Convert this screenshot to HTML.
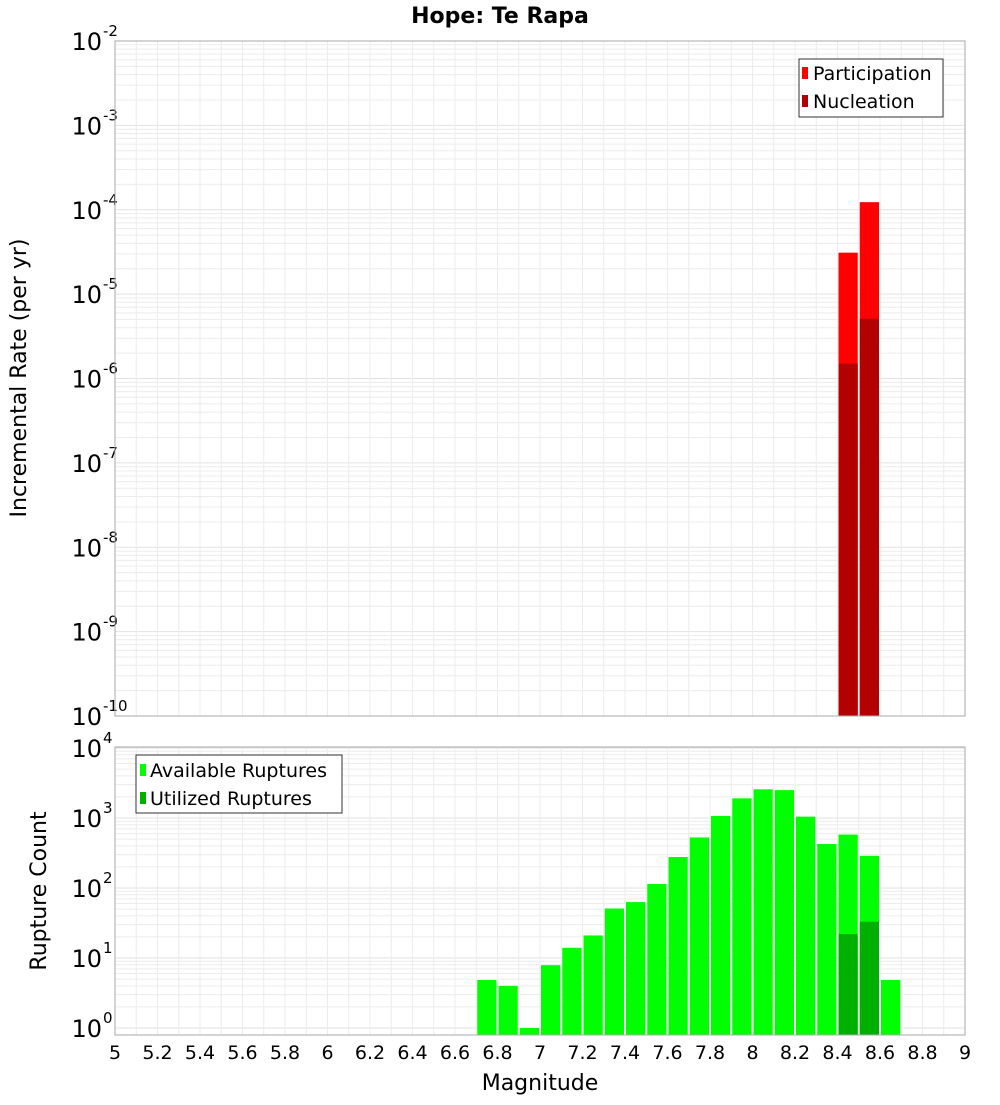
<!DOCTYPE html>
<html><head><meta charset="utf-8"><style>
body{margin:0;background:#fff;font-family:"Liberation Sans","DejaVu Sans",sans-serif}
svg text{font-family:"DejaVu Sans","Liberation Sans",sans-serif}
</style></head><body>
<svg id="c" width="1000" height="1100" xmlns="http://www.w3.org/2000/svg">
<text x="500" y="23" text-anchor="middle" font-size="22" font-weight="bold">Hope: Te Rapa</text>
<g id="top"></g><g id="bot"></g>
<text transform="translate(26,378) rotate(-90)" text-anchor="middle" font-size="22">Incremental Rate (per yr)</text>
<text transform="translate(46,891) rotate(-90)" text-anchor="middle" font-size="22">Rupture Count</text>
<text x="540" y="1090" text-anchor="middle" font-size="22">Magnitude</text>
</svg>
<script>
const rateMags=[8.45,8.55];
const participation=[3.1e-5,1.23e-4];
const nucleation=[1.5e-6,5.1e-6];
const countMags=[6.75,6.85,6.95,7.05,7.15,7.25,7.35,7.45,7.55,7.65,7.75,7.85,7.95,8.05,8.15,8.25,8.35,8.45,8.55,8.65];
const available=[4.85,4,1,7.9,14,21,51,63,114,277,527,1070,1910,2570,2500,1045,425,580,288,4.85];
const utilizedMags=[8.45,8.55];
const utilized=[22,33];
const xTicks=[5,5.2,5.4,5.6,5.8,6,6.2,6.4,6.6,6.8,7,7.2,7.4,7.6,7.8,8,8.2,8.4,8.6,8.8,9];
const xTickLabels=["5","5.2","5.4","5.6","5.8","6","6.2","6.4","6.6","6.8","7","7.2","7.4","7.6","7.8","8","8.2","8.4","8.6","8.8","9"];
const topExp=[-10,-9,-8,-7,-6,-5,-4,-3,-2];
const botExp=[0,1,2,3,4];
const NS="http://www.w3.org/2000/svg";
const L=115,R=965;
const X=m=>L+(m-5)*(R-L)/4;
function mk(p,t,a){const e=document.createElementNS(NS,t);for(const k in a)e.setAttribute(k,a[k]);p.appendChild(e);return e;}
function panel(g,top,bot,yOf,exps,name){
  const Yb=bot;
  mk(g,'rect',{x:L,y:top,width:R-L,height:bot-top,fill:'#fff'});
  for(let i=0;i<exps.length;i++){for(let k=1;k<10;k++){const y=yOf(k*Math.pow(10,exps[i]));if(y<top||y>bot)continue;
    const ln=mk(g,'line',{x1:L,x2:R,y1:y,y2:y,stroke:k==1?'#e2e2e2':'#ececec','stroke-width':1});
    }}
  for(let m=5.1;m<9;m+=0.1){const x=X(m);const ln=mk(g,'line',{x1:x,x2:x,y1:top,y2:bot,stroke:'#ececec','stroke-width':1});
    }
  for(let i=0;i<exps.length;i++){const y=yOf(Math.pow(10,exps[i]));
    const t=mk(g,'text',{x:102,y:y+9,'text-anchor':'end','font-size':24});t.textContent='10';
    
    const s=mk(g,'text',{x:103,y:y-5,'font-size':15});s.textContent=String(exps[i]);
    }
}
function border(g,top,bot){mk(g,'rect',{x:L,y:top,width:R-L,height:bot-top,fill:'none',stroke:'#aaa','stroke-width':1});}
function bar(g,m,v,yOf,base,col,nm){const x0=X(m-0.05)+1,x1=X(m+0.05)-1;const y=yOf(v);
  const r=mk(g,'rect',{x:x0,y:y,width:x1-x0,height:base-y,fill:col});
  }
// top panel
const gt=document.getElementById('top');
const tTop=41,tBot=716;
const Yt=v=>tBot-(Math.log10(v)+10)*(tBot-tTop)/8;
panel(gt,tTop,tBot,Yt,topExp,'top');
for(let i=0;i<rateMags.length;i++)bar(gt,rateMags[i],participation[i],Yt,tBot,'#ff0000','participation-bar');
for(let i=0;i<rateMags.length;i++)bar(gt,rateMags[i],nucleation[i],Yt,tBot,'#b30000','nucleation-bar');
border(gt,tTop,tBot);
// legend top
let lg=mk(gt,'g',{});
mk(lg,'rect',{x:799,y:59,width:144,height:58,fill:'#fff',stroke:'#333','stroke-width':1});
mk(lg,'rect',{x:802,y:67,width:6,height:12,fill:'#ff0000'});
mk(lg,'rect',{x:802,y:95,width:6,height:12,fill:'#b30000'});
let t=mk(lg,'text',{x:813,y:80,'font-size':19});t.textContent='Participation';
t=mk(lg,'text',{x:813,y:108,'font-size':19});t.textContent='Nucleation';
// bottom panel
const gb=document.getElementById('bot');
const bTop=747,bBot=1035;
const Yb=v=>1028-Math.log10(v)*70;
panel(gb,bTop,bBot,Yb,botExp,'bottom');
for(let i=0;i<countMags.length;i++)bar(gb,countMags[i],available[i],Yb,bBot,'#00ff00','available-bar');
for(let i=0;i<utilizedMags.length;i++)bar(gb,utilizedMags[i],utilized[i],Yb,bBot,'#00b000','utilized-bar');
border(gb,bTop,bBot);
lg=mk(gb,'g',{});
mk(lg,'rect',{x:136,y:755,width:206,height:58,fill:'#fff',stroke:'#333','stroke-width':1});
mk(lg,'rect',{x:140,y:764,width:6,height:12,fill:'#00ff00'});
mk(lg,'rect',{x:140,y:792,width:6,height:12,fill:'#00b000'});
t=mk(lg,'text',{x:150,y:777,'font-size':19});t.textContent='Available Ruptures';
t=mk(lg,'text',{x:150,y:805,'font-size':19});t.textContent='Utilized Ruptures';
// x ticks
for(let i=0;i<xTicks.length;i++){const tx=mk(gb,'text',{x:X(xTicks[i]),y:1059,'text-anchor':'middle','font-size':19});tx.textContent=xTickLabels[i];
  }
</script>
</body></html>
